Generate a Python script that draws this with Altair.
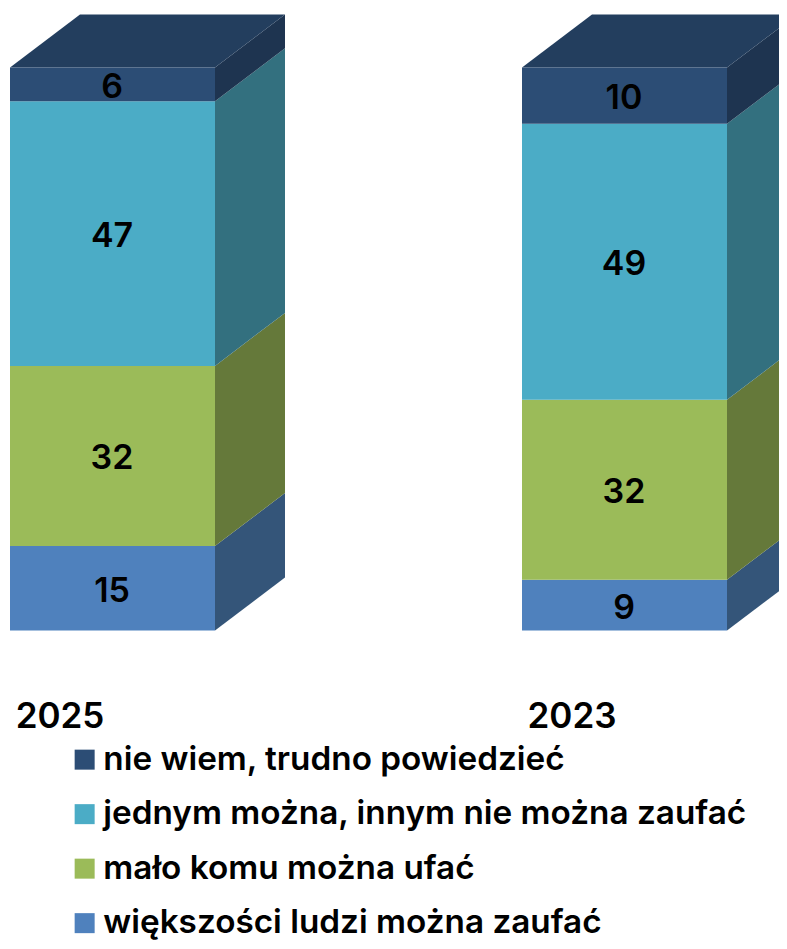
import altair as alt
import pandas as pd

years = ["2025", "2023"]
categories = ["nie wiem, trudno powiedzieć", "jednym można, innym nie można zaufać",
              "mało komu można ufać", "większości ludzi można zaufać"]
values_2025 = [6, 47, 32, 15]
values_2023 = [10, 49, 32, 9]
front_colors = ["#2c4d75", "#4bacc6", "#9bbb59", "#4f81bd"]
side_colors = ["#1e3450", "#33707f", "#65793a", "#345579"]
top_color = "#233e5e"

FONT = "Inter"
W, H = 771, 933
PX_PER_UNIT = 5.63
BASE_PX = 622.5
BAR_LEFT = {"2025": 2, "2023": 514}
BAR_W = 205
DEPTH_X = 70
DEPTH_Y = 53 / PX_PER_UNIT

values = {"2025": values_2025, "2023": values_2023}
front, side, top = [], [], []
for yr in years:
    left = BAR_LEFT[yr]
    right = left + BAR_W
    acc = 0
    for i in range(len(categories) - 1, -1, -1):
        v = values[yr][i]
        lo, hi = acc, acc + v
        acc = hi
        front.append(dict(year=yr, cat=categories[i], x=left, x2=right, y=lo, y2=hi,
                          mid=(lo + hi) / 2, cx=(left + right) / 2, val=v))
        gid = yr + str(i)
        side.append(dict(g=gid, x=right, y=lo, y2=hi, fill=side_colors[i]))
        side.append(dict(g=gid, x=right + DEPTH_X, y=lo + DEPTH_Y, y2=hi + DEPTH_Y, fill=side_colors[i]))
    t = 100
    for px, a, b in [(left, t, t), (left + DEPTH_X, t, t + DEPTH_Y),
                     (right, t, t + DEPTH_Y), (right + DEPTH_X, t + DEPTH_Y, t + DEPTH_Y)]:
        top.append(dict(g=yr, x=px, y=a, y2=b))

x_scale = alt.Scale(domain=[0, W], range=[0, W], nice=False, zero=False)
y_scale = alt.Scale(domain=[(BASE_PX - H) / PX_PER_UNIT, BASE_PX / PX_PER_UNIT], range=[H, 0], nice=False, zero=False)

side_layer = alt.Chart(pd.DataFrame(side)).mark_area(clip=True, interpolate="linear").encode(
    x=alt.X("x:Q", scale=x_scale, axis=None),
    y=alt.Y("y:Q", scale=y_scale, axis=None),
    y2="y2:Q",
    fill=alt.Fill("fill:N", scale=None),
    detail="g:N",
)
top_layer = alt.Chart(pd.DataFrame(top)).mark_area(clip=True, color=top_color, interpolate="linear").encode(
    x=alt.X("x:Q", scale=x_scale, axis=None),
    y=alt.Y("y:Q", scale=y_scale, axis=None),
    y2="y2:Q",
    detail="g:N",
)
front_layer = alt.Chart(pd.DataFrame(front)).mark_rect().encode(
    x=alt.X("x:Q", scale=x_scale, axis=None),
    x2="x2:Q",
    y=alt.Y("y:Q", scale=y_scale, axis=None),
    y2="y2:Q",
    color=alt.Color("cat:N", scale=alt.Scale(domain=categories, range=front_colors),
                    legend=alt.Legend(title=None, orient="none", legendX=60, legendY=735,
                                      symbolType="square", symbolSize=400, symbolStrokeWidth=0,
                                      labelFontSize=33.3, labelFont=FONT, labelFontWeight=600,
                                      labelColor="#000000", labelLimit=720, labelOffset=2,
                                      rowPadding=20.5, padding=0, symbolOpacity=1)),
)
val_labels = alt.Chart(pd.DataFrame(front)).mark_text(
    font=FONT, fontSize=34, fontWeight=600, color="#000000", dy=3.5, dx=-0.5
).encode(
    x=alt.X("cx:Q", scale=x_scale, axis=None),
    y=alt.Y("mid:Q", scale=y_scale, axis=None),
    text="val:Q",
)
year_df = pd.DataFrame({"year": years,
                        "x": [BAR_LEFT[y] + 50 for y in years],
                        "y": [(BASE_PX - 720) / PX_PER_UNIT] * 2})
year_labels = alt.Chart(year_df).mark_text(
    font=FONT, fontSize=35, fontWeight=600, color="#000000", baseline="alphabetic"
).encode(
    x=alt.X("x:Q", scale=x_scale, axis=None),
    y=alt.Y("y:Q", scale=y_scale, axis=None),
    text="year:N",
)

chart = alt.layer(side_layer, top_layer, front_layer, val_labels, year_labels).properties(
    width=W, height=H, padding=0, autosize=alt.AutoSizeParams(type="none")
).configure_view(stroke=None)

chart.save("out.html", embed_options={"renderer": "svg", "actions": False})
